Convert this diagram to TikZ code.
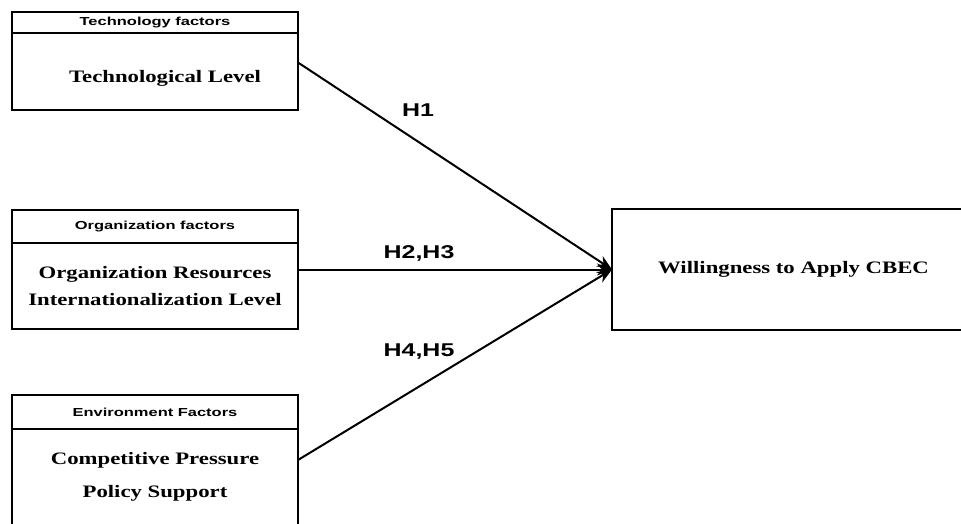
\documentclass[tikz,border=0pt]{standalone}
\usepackage{fontspec}
\setmainfont{Liberation Serif}
\setsansfont{Liberation Sans}
\usepackage{graphicx}
\usetikzlibrary{arrows.meta}
\usetikzlibrary{positioning}
\newcommand{\stretchx}[2][1.3]{\scalebox{#1}[1]{#2}}

\begin{document}
\begin{tikzpicture}[x=1pt,y=-1pt,
        hdr/.style={draw,line width=2.2pt,minimum width=286pt,inner sep=0pt,outer sep=0pt,font=\sffamily\bfseries\fontsize{11.6}{14}\selectfont},
        body/.style={draw,line width=2.5pt,minimum width=286pt,inner sep=0pt,outer sep=0pt,align=center,font=\bfseries\fontsize{17.5}{20}\selectfont},
        hyp/.style={font=\sffamily\bfseries\fontsize{18.5}{22}\selectfont},
        link/.style={line width=2pt,-{Stealth[length=15pt,width=12pt]}}]
                \useasboundingbox (0,0) rectangle (961,524);

                \node[hdr,minimum height=21pt] (techhead) at (155,22.5) {\stretchx[1.42]{Technology factors}};
                \node[body,minimum height=77pt,below=0pt of techhead] (tech) {\hspace*{20pt}\raisebox{-11pt}[0pt][0pt]{\stretchx{Technological Level}}};

                \node[hdr,minimum height=33pt] (orghead) at (155,226.5) {\stretchx[1.42]{Organization factors}};
                \node[body,minimum height=86pt,below=0pt of orghead] (org) {\stretchx{Organization Resources}\\[7pt]\stretchx{Internationalization Level}};

                \node[hdr,minimum height=34pt] (envhead) at (155,412) {\stretchx[1.42]{Environment Factors}};
                \node[body,minimum height=96pt,below=0pt of envhead] (env) {\stretchx{Competitive Pressure}\\[13pt]\stretchx{Policy Support}};

                \node[draw,line width=2.5pt,minimum width=363pt,minimum height=121pt,inner sep=0pt,outer sep=0pt,font=\bfseries\fontsize{17.5}{20}\selectfont] (will) at (793.5,269.5) {\stretchx{Willingness to Apply CBEC}};

                \draw[link] ([yshift=9pt]tech.east) -- (will.west);
                \draw[link] ([yshift=16.5pt]org.east) -- (will.west);
                \draw[link] ([yshift=17pt]env.east) -- (will.west);

                \node[hyp] (h1) at (418,110) {\stretchx[1.35]{H1}};
                \node[hyp] (h23) at (419,253) {\stretchx[1.35]{H2,H3}};
                \node[hyp] (h45) at (419,352) {\stretchx[1.35]{H4,H5}};
            \end{tikzpicture}
\end{document}
